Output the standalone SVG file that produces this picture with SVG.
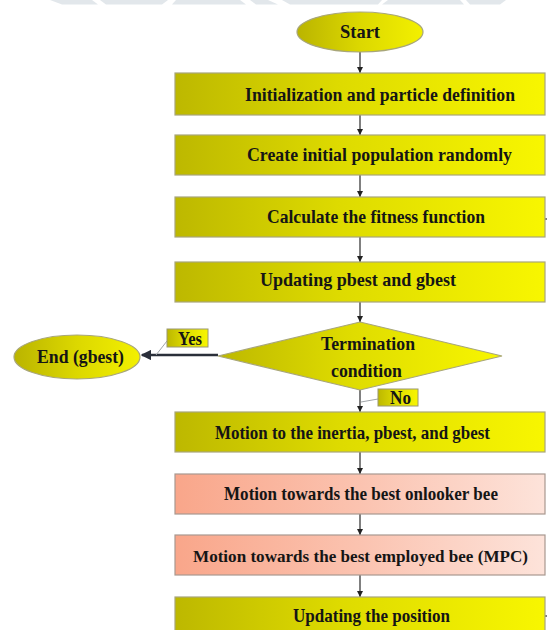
<svg xmlns="http://www.w3.org/2000/svg" width="547" height="630" viewBox="0 0 547 630">
<defs>
<style>
.box{fill:url(#yel);stroke:#a8a67a;stroke-width:1.2}
.pink{fill:url(#pnk);stroke:#a89890;stroke-width:1.2}
.ell{fill:url(#yelE);stroke:#a8a67a;stroke-width:1.2}
.lbl{fill:url(#yel);stroke:#9a9870;stroke-width:1}
.t{font-family:"Liberation Serif","Times New Roman",serif;font-weight:bold;font-size:19px;fill:#151515}
.conn{stroke:#2a2a2a;stroke-width:1.2;fill:none}
.lead{stroke:#a0a4a8;stroke-width:1;fill:none}
</style>
<linearGradient id="yel" x1="0" y1="0" x2="1" y2="0">
<stop offset="0" stop-color="#bdb800"/>
<stop offset="0.45" stop-color="#dedb00"/>
<stop offset="1" stop-color="#f8f600"/>
</linearGradient>
<linearGradient id="yelE" x1="0" y1="0" x2="1" y2="0">
<stop offset="0" stop-color="#bab400"/>
<stop offset="0.5" stop-color="#dcd800"/>
<stop offset="1" stop-color="#f3f000"/>
</linearGradient>
<linearGradient id="pnk" x1="0" y1="0" x2="1" y2="0">
<stop offset="0" stop-color="#f9a68a"/>
<stop offset="0.5" stop-color="#fbc3b0"/>
<stop offset="1" stop-color="#fde3da"/>
</linearGradient>
<marker id="ah" viewBox="0 0 8 8" refX="8" refY="4" markerWidth="6" markerHeight="6" markerUnits="userSpaceOnUse" orient="auto">
<path d="M0,0 L8,4 L0,8 z" fill="#222"/>
</marker>
<marker id="ahB" viewBox="0 0 8 8" refX="7" refY="4" markerWidth="4" markerHeight="4" orient="auto">
<path d="M0,0 L8,4 L0,8 z" fill="#2a2f3a"/>
</marker>
</defs>
<rect width="547" height="630" fill="#ffffff"/>
<g id="watermark" fill="#e2e7eb">
<polygon points="50,0 92,0 98,4.5 62,4.5"/>
<polygon points="100,0 168,0 162,4.5 106,4.5"/>
<polygon points="176,0 240,0 246,4.5 172,4.5"/>
<polygon points="250,0 268,0 278,4.5 256,4.5"/>
<polygon points="282,0 382,0 378,4.5 290,4.5"/>
<polygon points="388,0 460,0 464,4.5 382,4.5"/>
<polygon points="466,0 506,0 500,4.5 470,4.5"/>
</g>
<g id="connectors">
<line class="conn" x1="360" y1="52" x2="360" y2="73" marker-end="url(#ah)"/>
<line class="conn" x1="360" y1="115" x2="360" y2="135" marker-end="url(#ah)"/>
<line class="conn" x1="360" y1="175" x2="360" y2="197" marker-end="url(#ah)"/>
<line class="conn" x1="360" y1="237" x2="360" y2="262" marker-end="url(#ah)"/>
<line class="conn" x1="360" y1="302" x2="360" y2="322" marker-end="url(#ah)"/>
<line class="conn" x1="360" y1="390" x2="360" y2="412" marker-end="url(#ah)"/>
<line class="conn" x1="360" y1="452" x2="360" y2="474" marker-end="url(#ah)"/>
<line class="conn" x1="360" y1="514" x2="360" y2="535" marker-end="url(#ah)"/>
<line class="conn" x1="360" y1="575" x2="360" y2="597" marker-end="url(#ah)"/>
<line x1="218" y1="355" x2="142" y2="355" stroke="#2a2f3a" stroke-width="2.6" marker-end="url(#ahB)"/>
<line class="lead" x1="167" y1="341" x2="156" y2="355"/>
<line class="lead" x1="378" y1="399" x2="361" y2="402"/>
<line class="conn" x1="544" y1="219" x2="547" y2="219"/>
<line class="conn" x1="544" y1="616" x2="547" y2="616"/>
</g>
<g id="start">
<ellipse class="ell" cx="360" cy="32" rx="63" ry="20"/>
<text class="t" x="340" y="38" textLength="40" lengthAdjust="spacingAndGlyphs">Start</text>
</g>
<g id="init">
<rect class="box" x="175" y="73" width="370" height="42"/>
<text class="t" x="245" y="101" textLength="270" lengthAdjust="spacingAndGlyphs">Initialization and particle definition</text>
</g>
<g id="create">
<rect class="box" x="175" y="135" width="370" height="40"/>
<text class="t" x="247" y="161" textLength="265" lengthAdjust="spacingAndGlyphs">Create initial population randomly</text>
</g>
<g id="fitness">
<rect class="box" x="175" y="197" width="370" height="40"/>
<text class="t" x="267" y="223" textLength="218" lengthAdjust="spacingAndGlyphs">Calculate the fitness function</text>
</g>
<g id="update-best">
<rect class="box" x="175" y="262" width="370" height="40"/>
<text class="t" x="260" y="286" textLength="196" lengthAdjust="spacingAndGlyphs">Updating pbest and gbest</text>
</g>
<g id="termination">
<polygon class="box" points="360,322 502,356 360,390 218,356"/>
<text class="t" x="321" y="350" textLength="94" lengthAdjust="spacingAndGlyphs">Termination</text>
<text class="t" x="331" y="377" textLength="71" lengthAdjust="spacingAndGlyphs">condition</text>
</g>
<g id="yes-label">
<rect class="lbl" x="167" y="329" width="41" height="18"/>
<text class="t" x="178" y="345" textLength="24" lengthAdjust="spacingAndGlyphs">Yes</text>
</g>
<g id="no-label">
<rect class="lbl" x="378" y="389" width="40" height="17"/>
<text class="t" x="390" y="404" textLength="21" lengthAdjust="spacingAndGlyphs">No</text>
</g>
<g id="end">
<ellipse class="ell" cx="77" cy="357" rx="63" ry="22"/>
<text class="t" x="37" y="363" textLength="87" lengthAdjust="spacingAndGlyphs">End (gbest)</text>
</g>
<g id="motion-inertia">
<rect class="box" x="175" y="412" width="370" height="40"/>
<text class="t" x="215" y="439" textLength="275" lengthAdjust="spacingAndGlyphs">Motion to the inertia, pbest, and gbest</text>
</g>
<g id="motion-onlooker">
<rect class="pink" x="175" y="474" width="370" height="40"/>
<text class="t" x="224" y="500" textLength="274" lengthAdjust="spacingAndGlyphs">Motion towards the best onlooker bee</text>
</g>
<g id="motion-employed">
<rect class="pink" x="175" y="535" width="370" height="40"/>
<text class="t" x="193" y="562" style="font-size:17.5px" textLength="335" lengthAdjust="spacingAndGlyphs">Motion towards the best employed bee (MPC)</text>
</g>
<g id="update-position">
<rect class="box" x="175" y="597" width="370" height="40"/>
<text class="t" x="293" y="622" textLength="157" lengthAdjust="spacingAndGlyphs">Updating the position</text>
</g>
</svg>
